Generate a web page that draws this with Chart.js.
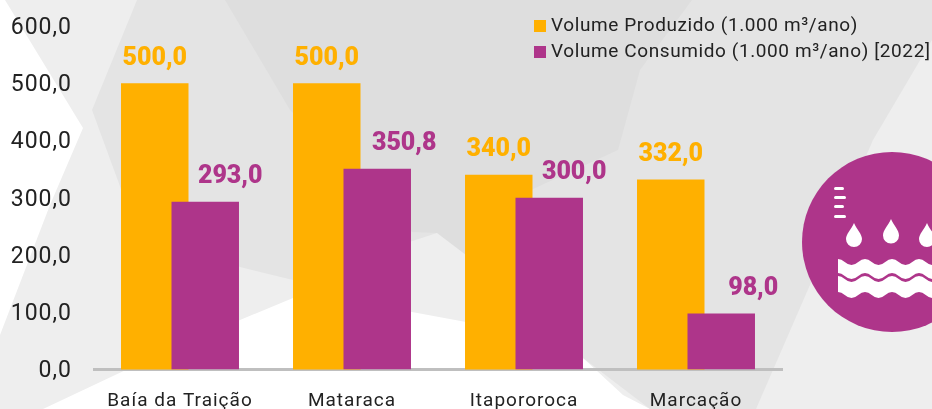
<!DOCTYPE html>
<html>
<head>
  <title>Volume Produzido e Consumido</title>
  <script src="https://cdn.jsdelivr.net/npm/chart.js"></script>
  <style>
    html, body { margin: 0; padding: 0; background: #fff; overflow: hidden; }
    #wrap { position: relative; width: 932px; height: 409px; overflow: hidden; font-family: Roboto, sans-serif; }
    #bg, #icon { position: absolute; left: 0; top: 0; }
    #chart { position: absolute; left: 0; top: 0; }
    #legend { position: absolute; left: 534px; top: 12px; color: #222; font-size: 19px; line-height: 26px; white-space: nowrap; letter-spacing: 0.6px; }
    #legend i { display: inline-block; width: 12px; height: 12px; margin-right: 5px; vertical-align: -0.5px; }
  </style>
</head>
<body>
  <div id="wrap">
    <svg id="bg" width="932" height="409">
      <polygon fill="#eeeeee" points="5,0 83,128 50,205 0,335 0,409 43,409 130,368 240,320 293,298 412,312 466,322 583,358 623,395 650,409 932,409 932,0"/>
      <polygon fill="#e4e4e4" points="137,0 92,110 125,200 240,267 293,280 440,232 466,250 520,340 583,358 650,409 756,409 873,140 932,40 932,0"/>
      <polygon fill="#dedede" points="225,0 692,0 640,70 618,150 520,195 466,255 437,233 412,232 290,110"/>
    </svg>
    <canvas id="chart" width="932" height="409"></canvas>
    <div id="legend"></div>
    <svg id="icon" width="932" height="409">
      <circle cx="892" cy="242" r="90" fill="#ae358a"/>
      <g fill="#fff">
        <rect x="834" y="187" width="10" height="3" rx="1.5"/>
        <rect x="834" y="196" width="12" height="3" rx="1.5"/>
        <rect x="834" y="205" width="10" height="3" rx="1.5"/>
        <rect x="834" y="215" width="12" height="3" rx="1.5"/>
        <path d="M854 223 C857 230 862 234 862 239 A8 8 0 0 1 846 239 C846 234 851 230 854 223Z"/>
        <path d="M891 219 C894 226 899 230 899 235.500 A8 8 0 0 1 883 235.500 C883 230 888 226 891 219Z"/>
        <path d="M927 223 C930 230 935 234 935 239 A8 8 0 0 1 919 239 C919 234 924 230 927 223Z"/>
      </g>
      <clipPath id="waveClip"><rect x="838" y="250" width="94" height="60"/></clipPath>
      <g clip-path="url(#waveClip)" fill="#fff">
        <path d="M831.250 262 q6.750 -6 13.500 0 t13.500 0 t13.500 0 t13.500 0 t13.500 0 t13.500 0 t13.500 0 t13.500 0 V276 q-6.750 6 -13.500 0 t-13.500 0 t-13.500 0 t-13.500 0 t-13.500 0 t-13.500 0 t-13.500 0 t-13.500 0 Z"/>
        <path d="M831.250 279 q6.750 -6 13.500 0 t13.500 0 t13.500 0 t13.500 0 t13.500 0 t13.500 0 t13.500 0 t13.500 0 V295 q-6.750 6 -13.500 0 t-13.500 0 t-13.500 0 t-13.500 0 t-13.500 0 t-13.500 0 t-13.500 0 t-13.500 0 Z"/>
      </g>
    </svg>
  </div>

  <script>
    const categories = ['Baía da Traição', 'Mataraca', 'Itapororoca', 'Marcação'];
    const produzido = [500.0, 500.0, 340.0, 332.0];
    const consumido = [293.0, 350.8, 300.0, 98.0];
    const seriesNames = ['Volume Produzido (1.000 m³/ano)', 'Volume Consumido (1.000 m³/ano) [2022]'];
    const yTickLabels = ['0,0', '100,0', '200,0', '300,0', '400,0', '500,0', '600,0'];

    const GOLD = '#ffb000';
    const PURPLE = '#ae358a';
    const TEXT = '#222222';
    const FONT = 'Roboto, sans-serif';

    // purple labels sit to the right of their bar in the original
    const consumidoLabelShift = [25, 27, 25, 32];

    document.getElementById('legend').innerHTML = seriesNames.map((name, i) =>
      '<div><i style="background:' + [GOLD, PURPLE][i] + '"></i>' + name + '</div>').join('');

    const fmt = (v) => v.toFixed(1).replace('.', ',');

    const spacing = {
      id: 'spacing',
      beforeDraw(chart) { chart.ctx.letterSpacing = '1px'; }
    };

    // the purple bar has to overlap the gold one, so gold is painted first
    const paintOrder = {
      id: 'paintOrder',
      beforeDatasetsDraw(chart) { chart.getDatasetMeta(0).controller.draw(); },
      beforeDatasetDraw(chart, args) { if (args.index === 0) return false; }
    };

    const barLabels = {
      id: 'barLabels',
      afterDatasetsDraw(chart) {
        const ctx = chart.ctx;
        ctx.save();
        ctx.font = '900 25px ' + FONT;
        ctx.textAlign = 'center';
        ctx.textBaseline = 'middle';
        ctx.letterSpacing = '0px';
        chart.data.datasets.forEach((ds, d) => {
          ctx.fillStyle = ds.backgroundColor;
          chart.getDatasetMeta(d).data.forEach((bar, i) => {
            const dx = d === 1 ? consumidoLabelShift[i] : 0;
            ctx.fillText(fmt(ds.data[i]), bar.x + dx, bar.y - 25);
          });
        });
        ctx.restore();
      }
    };

    new Chart(document.getElementById('chart').getContext('2d'), {
      type: 'bar',
      data: {
        labels: categories,
        datasets: [
          { label: seriesNames[0], data: produzido, backgroundColor: GOLD },
          { label: seriesNames[1], data: consumido, backgroundColor: PURPLE }
        ]
      },
      options: {
        responsive: false,
        animation: false,
        categoryPercentage: 0.587,
        barPercentage: 1.337,
        layout: { padding: { left: 0, right: 150, top: 26, bottom: 0 } },
        plugins: { legend: { display: false }, tooltip: { enabled: false } },
        scales: {
          x: {
            grid: { display: false },
            border: { color: '#bfbfbf', width: 3 },
            ticks: { color: TEXT, font: { family: FONT, size: 19 }, padding: 12, maxRotation: 0 },
            afterFit(scale) { scale.height = 39.5; scale.paddingLeft = 0; scale.paddingRight = 0; }
          },
          y: {
            min: 0,
            max: 600,
            grid: { display: false, drawTicks: false },
            border: { display: false },
            ticks: {
              stepSize: 100,
              color: TEXT,
              font: { family: FONT, size: 23 },
              padding: 22,
              labelOffset: 2,
              callback: (v, i) => yTickLabels[i]
            },
            afterFit(scale) { scale.width = 94; scale.paddingTop = 0; scale.paddingBottom = 0; }
          }
        }
      },
      plugins: [spacing, paintOrder, barLabels]
    });
  </script>
</body>
</html>
